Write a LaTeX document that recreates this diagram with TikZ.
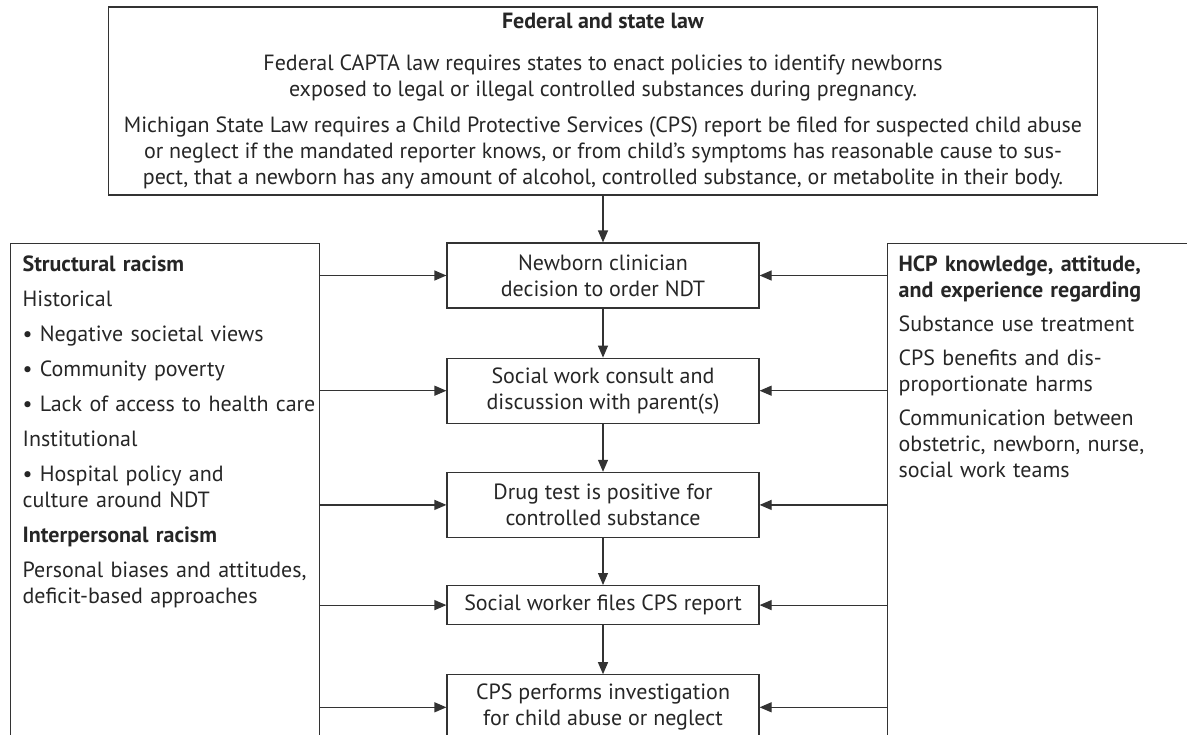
\documentclass[tikz,border=0pt]{standalone}
\usepackage{fontspec}
\setmainfont{PT Sans}
\usepackage{tikz}
\usetikzlibrary{positioning,calc,arrows.meta}

\begin{document}
\begin{tikzpicture}[
    x=0.5pt, y=-0.5pt,
    every node/.style={font=\fontsize{11pt}{13pt}\selectfont, text=black!85},
    stepbox/.style={rectangle, draw=black!80, line width=0.6pt, minimum width=156pt, align=center, inner sep=0pt},
    sidebox/.style={rectangle, draw=black!80, line width=0.6pt, align=left, anchor=north west, inner xsep=6pt, inner ysep=6pt, text depth=320pt},
    arrow/.style={-{Triangle[length=6pt, width=5pt]}, line width=0.6pt, draw=black!80}
]
\useasboundingbox (0,0) rectangle (1187,734);
\clip (0,0) rectangle (1187,734);

% Law on top
\node[stepbox, minimum width=494.5pt, minimum height=94pt] (law) at (603,101) {\textbf{Federal and state law}\\[8pt]
    Federal CAPTA law requires states to enact policies to identify newborns\\
    exposed to legal or illegal controlled substances during pregnancy.\\[5pt]
    Michigan State Law requires a Child Protective Services (CPS) report be filed for suspected child abuse\\
    or neglect if the mandated reporter knows, or from child's symptoms has reasonable cause to sus-\\
    pect, that a newborn has any amount of alcohol, controlled substance, or metabolite in their body.};

% Main steps
\node[stepbox, minimum height=32.5pt] (order) at (603,275.5) {Newborn clinician\\decision to order NDT};
\node[stepbox, minimum height=32.5pt, below=24.5pt of order] (consult) {Social work consult and\\discussion with parent(s)};
\node[stepbox, minimum height=32.5pt, below=24pt of consult] (positive) {Drug test is positive for\\controlled substance};
\node[stepbox, minimum height=19.5pt, below=23.5pt of positive] (report) {Social worker files CPS report};
\node[stepbox, minimum height=32.5pt, below=24.5pt of report] (investigate) {CPS performs investigation\\for child abuse or neglect};

% Side factors
\node[sidebox, text width=142.5pt] (racism) at (10,243) {\textbf{Structural racism}\\[4.5pt]
    Historical\\[4.5pt]
    \textbullet\ Negative societal views\\[4.5pt]
    \textbullet\ Community poverty\\[4.5pt]
    \mbox{\textbullet\ Lack of access to health care}\\[4.5pt]
    Institutional\\[4.5pt]
    \textbullet\ Hospital policy and\\
    culture around NDT\\[4.5pt]
    \textbf{Interpersonal racism}\\[4.5pt]
    Personal biases and attitudes,\\
    deficit-based approaches};
\node[sidebox, inner xsep=5.5pt, text width=310pt] (hcp) at (887,243) {\textbf{HCP knowledge, attitude,}\\
    \textbf{and experience regarding}\\[4pt]
    Substance use treatment\\[4pt]
    CPS benefits and dis-\\
    proportionate harms\\[4pt]
    Communication between\\
    obstetric, newborn, nurse,\\
    social work teams};

% Arrows down the chain
\draw[arrow] (law.south) -- (order.north);
\foreach \a/\b in {order/consult, consult/positive, positive/report, report/investigate}
    \draw[arrow] (\a) -- (\b);

% Arrows from both sides
\foreach \s in {order, consult, positive, report, investigate} {
    \draw[arrow] (racism.east |- \s) -- (\s.west);
    \draw[arrow] (hcp.west |- \s) -- (\s.east);
}

\end{tikzpicture}
\end{document}
